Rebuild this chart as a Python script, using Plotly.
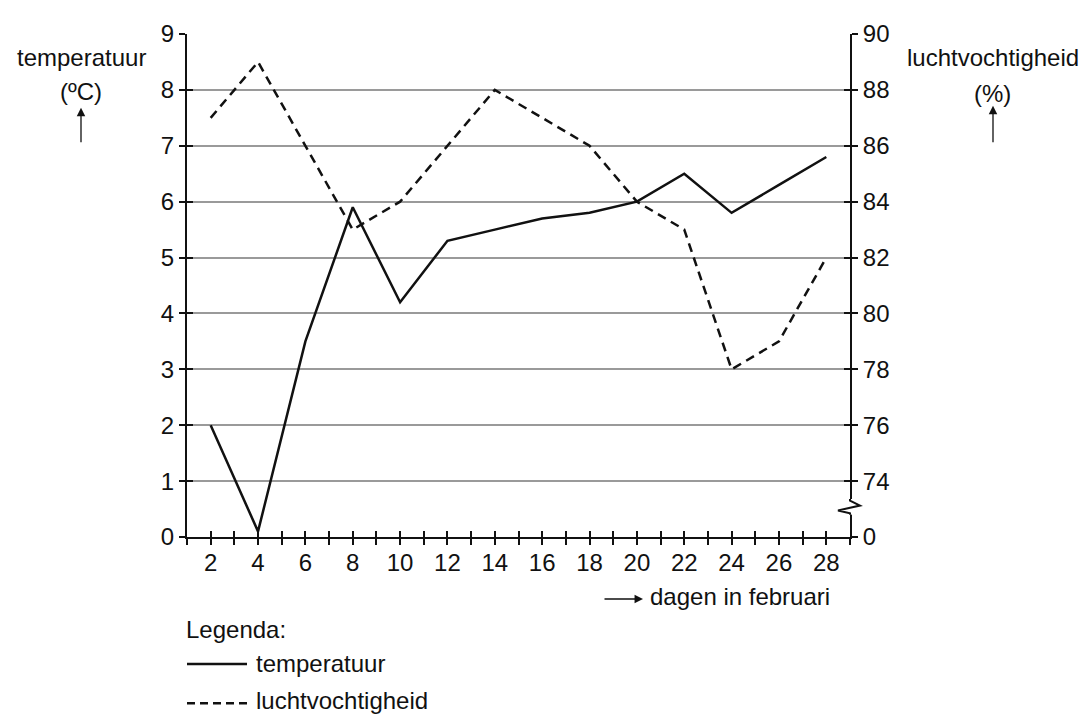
import plotly.graph_objects as go

days = [2, 4, 6, 8, 10, 12, 14, 16, 18, 20, 22, 24, 26, 28]
temperatuur = [2.0, 0.1, 3.5, 5.9, 4.2, 5.3, 5.5, 5.7, 5.8, 6.0, 6.5, 5.8, 6.3, 6.8]
luchtvochtigheid = [87, 89, 86, 83, 84, 86, 88, 87, 86, 84, 83, 78, 79, 82]

x_ticks = list(range(1, 30))
x_labels = [str(d) if d % 2 == 0 else "" for d in x_ticks]
y_left_ticks = list(range(0, 10))
y_right_ticks = [72, 74, 76, 78, 80, 82, 84, 86, 88, 90]
y_right_labels = ["0", "74", "76", "78", "80", "82", "84", "86", "88", "90"]

FONT = "Liberation Sans, Arial, sans-serif"
FS = 24
BLACK = "#111111"

fig = go.Figure()

fig.add_trace(go.Scatter(x=days, y=temperatuur, mode="lines", name="temperatuur",
                         line=dict(color=BLACK, width=2.5), xaxis="x", yaxis="y",
                         showlegend=False))
fig.add_trace(go.Scatter(x=days, y=luchtvochtigheid, mode="lines", name="luchtvochtigheid",
                         line=dict(color=BLACK, width=2.5, dash="9px,6px"), xaxis="x", yaxis="y2",
                         showlegend=False))
# helper traces so the overlay (inside-tick) axes are drawn
fig.add_trace(go.Scatter(x=[], y=[], xaxis="x2", yaxis="y3", showlegend=False, hoverinfo="skip"))
fig.add_trace(go.Scatter(x=[], y=[], xaxis="x", yaxis="y4", showlegend=False, hoverinfo="skip"))

tickfont = dict(family=FONT, size=FS, color=BLACK)

# the page has an 8px body margin, so the figure is 8px smaller and margins compensate
fig.update_layout(
    width=1083, height=712,
    margin=dict(l=179, r=241, t=18, b=183),
    paper_bgcolor="white", plot_bgcolor="white",
    font=dict(family=FONT, size=FS, color=BLACK),
    xaxis=dict(range=[1, 29], tickmode="array", tickvals=x_ticks, ticktext=x_labels,
               ticks="outside", ticklen=6, tickwidth=1.5, tickcolor=BLACK,
               showline=True, linecolor=BLACK, linewidth=2, showgrid=False, zeroline=False,
               tickfont=tickfont, ticklabelstandoff=-3),
    xaxis2=dict(range=[1, 29], overlaying="x", anchor="y", tickmode="array", tickvals=x_ticks,
                ticks="inside", ticklen=6, tickwidth=1.5, tickcolor=BLACK,
                showticklabels=False, showline=False, showgrid=False, zeroline=False),
    yaxis=dict(range=[0, 9], tickmode="array", tickvals=y_left_ticks,
               ticks="outside", ticklen=6, tickwidth=1.5, tickcolor=BLACK,
               showline=True, linecolor=BLACK, linewidth=2,
               showgrid=True, gridcolor="#9a9a9a", gridwidth=1.5, zeroline=False,
               tickfont=tickfont),
    yaxis2=dict(range=[72, 90], overlaying="y", side="right", anchor="x",
                tickmode="array", tickvals=y_right_ticks, ticktext=y_right_labels,
                ticks="outside", ticklen=6, tickwidth=1.5, tickcolor=BLACK,
                showline=True, linecolor=BLACK, linewidth=2, showgrid=False, zeroline=False,
                tickfont=tickfont),
    yaxis3=dict(range=[0, 9], overlaying="y", anchor="x", tickmode="array", tickvals=y_left_ticks,
                ticks="inside", ticklen=6, tickwidth=1.5, tickcolor=BLACK,
                showticklabels=False, showline=False, showgrid=False, zeroline=False),
    yaxis4=dict(range=[72, 90], overlaying="y", side="right", anchor="x",
                tickmode="array", tickvals=y_right_ticks,
                ticks="inside", ticklen=6, tickwidth=1.5, tickcolor=BLACK,
                showticklabels=False, showline=False, showgrid=False, zeroline=False),
)

W, H = 663.0, 511.0
L0, B0 = 187.0, 537.0


def px(xp):
    return (xp - L0) / W


def py(yp):
    return (B0 - yp) / H


annots = []
for t, xx, yy in [("temperatuur", 81, 50), ("(ºC)", 81, 84),
                  ("luchtvochtigheid", 993, 50), ("(%)", 993, 86)]:
    annots.append(dict(text=t, x=px(xx), y=py(yy), xref="paper", yref="paper",
                       xanchor="center", yanchor="middle", showarrow=False,
                       font=dict(family=FONT, size=FS, color=BLACK)))

for t, xx, yy in [("dagen in februari", 648, 597), ("Legenda:", 184, 631),
                  ("temperatuur", 254, 666), ("luchtvochtigheid", 254, 703)]:
    annots.append(dict(text=t, x=px(xx), y=py(yy), xref="paper", yref="paper",
                       xanchor="left", yanchor="middle", showarrow=False,
                       font=dict(family=FONT, size=FS, color=BLACK)))

# arrows
for (hx, hy, tx, ty) in [(81, 101, 81, 137), (993, 99, 993, 137), (643, 600, 603, 600)]:
    annots.append(dict(text="", x=px(hx), y=py(hy), xref="paper", yref="paper",
                       ax=tx - hx, ay=ty - hy, axref="pixel", ayref="pixel",
                       showarrow=True, arrowhead=2, arrowsize=1.3, arrowwidth=1.3,
                       arrowcolor=BLACK, standoff=0, startstandoff=0))

fig.update_layout(annotations=annots)

shapes = [
    # axis break cover
    dict(type="rect", xref="paper", yref="y", x0=0.99, x1=1.01, y0=0.40, y1=0.68,
         fillcolor="white", line=dict(width=0), layer="above"),
    dict(type="path", xref="paper", yref="y",
         path=f"M 1,0.68 L 1,0.651 L {px(860)},0.563 L {px(838)},0.475 L 1,0.4225 L 1,0.40",
         line=dict(color=BLACK, width=2), layer="above"),
    # legend lines
    dict(type="line", xref="paper", yref="paper", x0=px(187), x1=px(247), y0=py(666), y1=py(666),
         line=dict(color=BLACK, width=2.5)),
    dict(type="line", xref="paper", yref="paper", x0=px(187), x1=px(248), y0=py(706), y1=py(706),
         line=dict(color=BLACK, width=2.5, dash="8px,5px")),
]
fig.update_layout(shapes=shapes)

fig.write_html("out.html")
